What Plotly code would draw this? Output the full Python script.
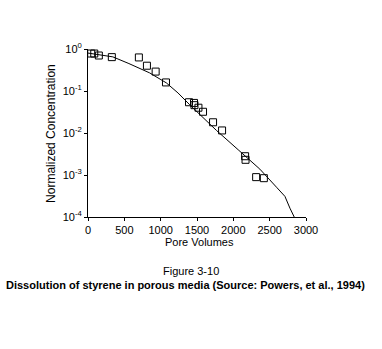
import plotly.graph_objects as go

# Measured concentrations (open squares)
pore_volumes = [44, 86, 149, 328, 700, 811, 931, 1073, 1390, 1459, 1465, 1520,
                1583, 1721, 1845, 2162, 2168, 2314, 2420]
concentration = [0.78, 0.78, 0.70, 0.64, 0.63, 0.40, 0.29, 0.16, 0.054, 0.052,
                 0.046, 0.040, 0.032, 0.018, 0.0115, 0.0028, 0.0023, 0.00089, 0.00084]

# Model curve
model_pv = [0, 342, 563, 710, 848, 1078, 1238, 1400, 1768, 2066, 2365, 2595,
            2710, 2779, 2838]
model_conc = [0.80, 0.65, 0.45, 0.35, 0.27, 0.156, 0.090, 0.047, 0.0115,
              0.0040, 0.00138, 0.00051, 0.00031, 0.000162, 0.0001]

x_ticks = [0, 500, 1000, 1500, 2000, 2500, 3000]
y_ticks = [1e-4, 1e-3, 1e-2, 1e-1, 1]
y_tick_text = ["10<sup>-4</sup>", "10<sup>-3</sup>", "10<sup>-2</sup>",
               "10<sup>-1</sup>", "10<sup>0</sup>"]

family = "Liberation Sans, Arial, sans-serif"
font = dict(family=family, size=11, color="black")
title_font = dict(family=family, size=12, color="black")

fig = go.Figure()
fig.add_trace(go.Scatter(
    x=model_pv, y=model_conc, mode="lines",
    line=dict(color="black", width=1), showlegend=False,
))
fig.add_trace(go.Scatter(
    x=pore_volumes, y=concentration, mode="markers",
    marker=dict(symbol="square-open", size=7, color="black",
                line=dict(color="black", width=1)),
    showlegend=False, cliponaxis=False,
))

fig.update_layout(
    width=382, height=349,
    margin=dict(l=88, r=76, t=49, b=132),
    paper_bgcolor="white", plot_bgcolor="white",
    font=font,
    xaxis=dict(
        range=[0, 3000], tickvals=x_ticks, ticks="outside", ticklen=3,
        tickcolor="black", showline=True, linecolor="black", linewidth=1,
        showgrid=False, zeroline=False, tickfont=font,
    ),
    yaxis=dict(
        type="log", range=[-4, 0], tickvals=y_ticks, ticktext=y_tick_text,
        ticks="outside", ticklen=3, tickcolor="black", showline=True,
        linecolor="black", linewidth=1, showgrid=False, zeroline=False,
        tickfont=font,
    ),
    annotations=[
        dict(text="Pore Volumes", xref="paper", yref="paper", x=0.51, y=-0.15,
             showarrow=False, font=font, xanchor="center", yanchor="middle"),
        dict(text="Normalized Concentration", xref="paper", yref="paper",
             x=-0.17, y=0.5, textangle=-90, showarrow=False, font=title_font,
             xanchor="center", yanchor="middle"),
        dict(text="Figure 3-10", xref="paper", yref="paper", x=0.472, y=-0.321,
             showarrow=False, font=font, xanchor="center", yanchor="middle"),
        dict(text="<b>Dissolution of styrene in porous media (Source: Powers, et al., 1994)</b>",
             xref="paper", yref="paper", x=0.445, y=-0.405, showarrow=False,
             font=font, xanchor="center", yanchor="middle"),
    ],
)

fig.write_html("out.html")
